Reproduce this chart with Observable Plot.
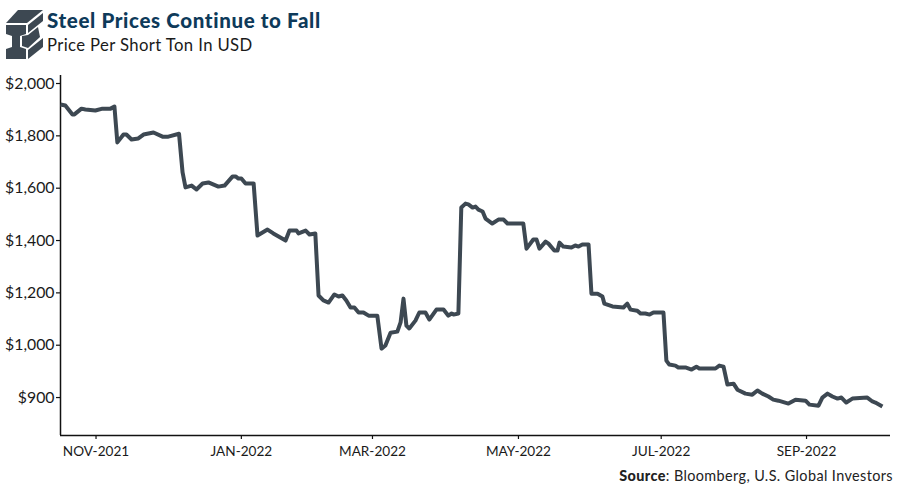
<!DOCTYPE html>
<html><head><meta charset="utf-8">
<script src="https://cdn.jsdelivr.net/npm/d3@7"></script>
<script src="https://cdn.jsdelivr.net/npm/@observablehq/plot@0.6"></script>
<style>
html,body{margin:0;padding:0;background:#fff;width:900px;height:488px;overflow:hidden;font-family:Lato,sans-serif}
#head{position:relative;height:67px}
#head svg{position:absolute;left:0;top:5px}
#title{position:absolute;left:47px;top:8px;font:900 20.5px Lato,sans-serif;color:#0e3a5a;letter-spacing:.64px;white-space:nowrap}
#sub{position:absolute;left:47px;top:35px;font:400 16.7px Lato,sans-serif;color:#1a1a1a;letter-spacing:.38px;white-space:nowrap}
#chart svg{display:block}
#src{position:absolute;right:7px;top:467px;font:400 14.4px Lato,sans-serif;color:#222;letter-spacing:.4px;white-space:nowrap}
</style></head><body>
<div id="head">
<svg width="46" height="56" viewBox="0 0 46 56" fill="#3d4852">
<path d="M6 18 L18 5 L43 5 L27 18 Z"/>
<path d="M6 20 L26 20 L26 29 L20 31 L20 42 L26 44 L26 54 L6 54 L6 44 L12 42 L12 31 L6 29 Z"/>
<path d="M28 20 L43 8 L43 16 L28 28 Z"/>
<path d="M22 31 L28 30 L38 22 L40 32 L28 43 L22 41 Z"/>
<path d="M28 45 L43 33 L43 42 L28 54 Z"/>
</svg>
<div id="title">Steel Prices Continue to Fall</div>
<div id="sub">Price Per Short Ton In USD</div>
</div>
<div id="chart"></div>
<div id="src"><b style="font-weight:900">Source</b>: Bloomberg, U.S. Global Investors</div>
<script>
// x is the trading-session number: the source axis spaces business days evenly.
const sessions = [0,1.5,3.7,4.3,6.5,7.7,10.8,13,15.5,16.7,17.6,19.5,20.4,22,24.1,25.7,28.8,31.6,33.4,36.7,37.8,38.7,40.6,42.1,44,45.8,48.9,50.8,53.3,54.2,55.1,56,57.3,59.8,61,64.1,65.9,69.7,70.9,73.1,73.7,75.9,77.1,78.9,79.9,81.4,83,84.8,86.1,87.3,88.5,89.8,91,92.3,93.8,95.4,98.1,99.4,100.6,102.2,104.3,105.3,106.2,107.1,108,109.9,111.1,113,114.2,116.4,118.6,120.1,121.1,121.7,123.2,124.1,125.4,126.3,127.6,128.5,129.4,130.7,131.6,133.7,135.6,137.2,138.4,143.3,144.3,146.4,147.4,148.3,150.2,151.1,152.9,153.9,154.5,155.7,158.2,159.4,160.4,161.6,163.5,164.4,166.3,167.8,168.4,170.9,174.3,175.5,176.5,178.6,179.6,181.1,182.4,183.6,186.7,187.6,188.5,190.4,191.3,193.5,195.4,196.9,197.8,202.8,204,205.3,206.5,208.4,209.6,212.1,214.2,215.8,217.3,219.2,220.7,222.3,225.4,227.6,230.7,231.9,234.7,235.9,237.5,239,240.6,241.8,243.3,245.2,249.8,251.4,252.3,254.5];
const prices = [1920,1916,1882,1882,1904,1901,1897,1904,1904,1912,1775,1805,1805,1786,1790,1805,1813,1797,1797,1808,1660,1603,1610,1595,1618,1622,1606,1610,1645,1645,1637,1637,1618,1618,1419,1442,1427,1400,1438,1438,1427,1438,1423,1427,1190,1171,1163,1194,1186,1190,1171,1144,1144,1125,1125,1113,1113,987,999,1048,1052,1087,1178,1075,1064,1094,1125,1125,1098,1136,1136,1113,1121,1117,1121,1526,1541,1538,1526,1530,1518,1511,1484,1465,1480,1480,1465,1465,1369,1404,1404,1369,1396,1388,1362,1362,1392,1377,1373,1381,1377,1385,1385,1197,1197,1186,1159,1148,1144,1159,1136,1132,1121,1121,1117,1125,1125,941,926,922,915,915,907,918,911,911,922,918,850,853,830,815,811,827,815,804,792,788,777,792,788,773,769,800,815,804,796,800,781,796,800,785,781,766];
const xTicks = [11,56,96.6,141.8,186,231];
const xLabels = ["NOV-2021","JAN-2022","MAR-2022","MAY-2022","JUL-2022","SEP-2022"];
// The lowest tick sits one even step below $1,000 but the source labels it $900.
const yTicks = [800,1000,1200,1400,1600,1800,2000];
const yLabels = ["$900","$1,000","$1,200","$1,400","$1,600","$1,800","$2,000"];
const series = sessions.map((s,i)=>({s,p:prices[i]}));
const chart = Plot.plot({
  width:900,height:396,marginLeft:60,marginRight:10,marginTop:8,marginBottom:28,
  style:{fontFamily:"Lato,sans-serif",fontSize:"14px",color:"#1a1a1a",background:"#fff"},
  x:{domain:[0,257],label:null},
  y:{domain:[655,2030.6],label:null},
  marks:[
    Plot.axisX({ticks:xTicks,tickFormat:d=>xLabels[xTicks.indexOf(d)],tickSize:4,tickPadding:7,label:null,stroke:"#111",strokeWidth:1.2,fontSize:13.6,fill:"#1a1a1a"}),
    Plot.axisY({ticks:yTicks,tickFormat:d=>yLabels[yTicks.indexOf(d)],tickSize:4,tickPadding:2,label:null,stroke:"#111",strokeWidth:1.2,fontSize:15.8,fill:"#1a1a1a"}),
    Plot.ruleX([0],{stroke:"#111",strokeWidth:1.5}),
    Plot.ruleY([655],{stroke:"#111",strokeWidth:1.5}),
    Plot.line(series,{x:"s",y:"p",stroke:"#3d4852",strokeWidth:4,strokeLinejoin:"round",strokeLinecap:"butt"})
  ]
});
document.getElementById("chart").appendChild(chart);
</script>
</body></html>
